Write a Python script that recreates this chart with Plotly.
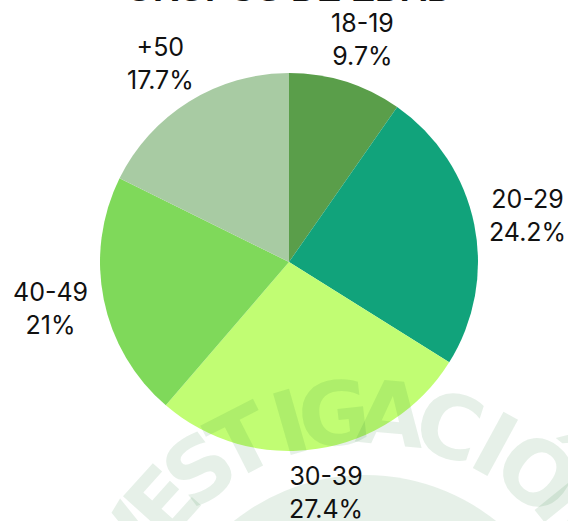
import math
import plotly.graph_objects as go

# ---- data ----
categories = ["18-19", "20-29", "30-39", "40-49", "+50"]
values = [9.7, 24.2, 27.4, 21, 17.7]
pct_labels = ["9.7%", "24.2%", "27.4%", "21%", "17.7%"]
colors = ["#5a9e4a", "#11a37b", "#c1fd73", "#7fd95a", "#a8cba3"]
title_text = "GRUPOS DE EDAD"
watermark = "INVESTIGACIÓN"

W, H = 568, 521
CX, CY, R = 289, 262, 189  # pie centre / radius in px (from top-left)

fig = go.Figure()
fig.add_trace(go.Pie(
    labels=categories, values=values, sort=False, direction="clockwise",
    rotation=0, textinfo="none", hoverinfo="label+percent",
    marker=dict(colors=colors, line=dict(width=0)),
    domain=dict(x=[(CX - R) / W, (CX + R) / W],
                y=[(H - CY - R) / H, (H - CY + R) / H]),
    showlegend=False,
))

annotations = []
# labels placed outside the slices, derived from cumulative values
total = sum(values)
cum = 0
RX_F, RY_F = 1.29, 1.235
for cat, v, p in zip(categories, values, pct_labels):
    mid = cum + v / 2
    cum += v
    ang = math.radians(90 - 360 * mid / total)
    px = CX + R * RX_F * math.cos(ang)
    py = CY - R * RY_F * math.sin(ang)
    annotations.append(dict(
        x=px / W, y=1 - py / H, xref="paper", yref="paper",
        text=f"{cat}<br>{p}", showarrow=False, xanchor="center", yanchor="middle",
        font=dict(family="Inter", size=25, color="#111111"),
    ))

# title (partly cut off at the top in the original)
annotations.append(dict(
    x=CX / W, y=1.022, xref="paper", yref="paper", text=f"<b>{title_text}</b>",
    showarrow=False, xanchor="center", yanchor="middle",
    font=dict(family="Liberation Sans", size=36, color="#111111"),
))

# faint watermark letters along an arc
WCX, WCY, WR = 365, 685, 272
wm_angles = [-81, -70, -59, -48, -37.5, -27, -16, -6.5, 5.5, 18, 28.5, 39, 51]
for ch, a in zip(watermark, wm_angles):
    t = math.radians(a)
    px = WCX + WR * math.sin(t)
    py = WCY - WR * math.cos(t)
    annotations.append(dict(
        x=px / W, y=1 - py / H, xref="paper", yref="paper", text=f"<b>{ch}</b>",
        showarrow=False, xanchor="center", yanchor="middle", textangle=a,
        font=dict(family="DejaVu Sans", size=88, color="rgba(30,120,50,0.11)"),
    ))

shapes = [dict(
    type="circle", xref="paper", yref="paper",
    x0=(WCX - 210) / W, x1=(WCX + 210) / W,
    y0=1 - (WCY + 210) / H, y1=1 - (WCY - 210) / H,
    fillcolor="rgba(30,120,50,0.11)", line=dict(width=0), layer="above",
)]

fig.update_layout(
    width=W, height=H, margin=dict(l=0, r=0, t=0, b=0),
    paper_bgcolor="white", plot_bgcolor="white",
    annotations=annotations, shapes=shapes,
)
fig.write_html(
    "out.html",
    config={"displayModeBar": False},
    post_script="document.body.style.margin='0';document.body.style.overflow='hidden';",
)
